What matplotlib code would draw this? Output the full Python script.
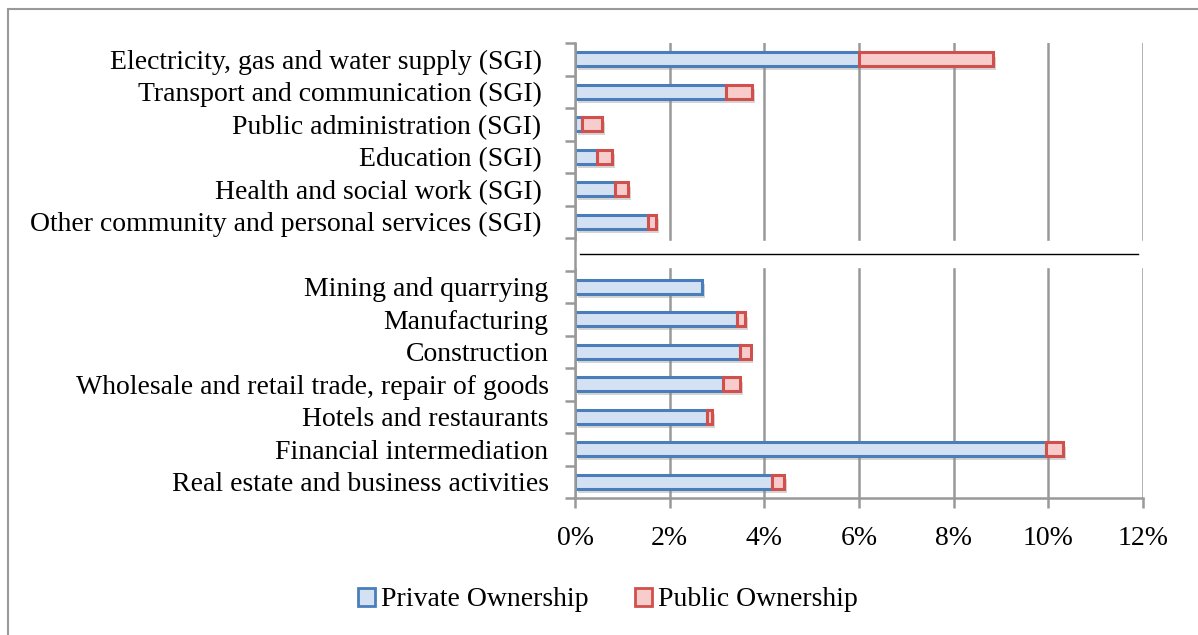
import matplotlib
matplotlib.use("Agg")
import matplotlib.pyplot as plt
import matplotlib.patheffects as pe
import matplotlib.transforms as mtransforms
from matplotlib.patches import Rectangle, Patch
from matplotlib.ticker import PercentFormatter

# sector shares, top to bottom; None marks the gap between SGI and other sectors
categories = [
    "Electricity, gas and water supply (SGI)",
    "Transport and communication (SGI)",
    "Public administration (SGI)",
    "Education (SGI)",
    "Health and social work (SGI)",
    "Other community and personal services (SGI)",
    None,
    "Mining and quarrying",
    "Manufacturing",
    "Construction",
    "Wholesale and retail trade, repair of goods",
    "Hotels and restaurants",
    "Financial intermediation",
    "Real estate and business activities",
]
private = [5.99, 3.18, 0.15, 0.46, 0.84, 1.55, None,
           2.69, 3.43, 3.48, 3.13, 2.79, 9.96, 4.17]
public = [2.85, 0.56, 0.43, 0.33, 0.28, 0.17, None,
          0.0, 0.16, 0.23, 0.36, 0.11, 0.36, 0.24]
x_ticks = [0, 2, 4, 6, 8, 10, 12]

blue_edge = "#4a7ebb"
blue_fill = "#d3e1f2"
red_edge = "#d0504d"
red_fill = "#f9cccc"
grey = "#999999"

plt.rcParams["font.family"] = ["Liberation Serif", "DejaVu Serif"]

fig = plt.figure(figsize=(11.98, 6.35), dpi=100)
ax = fig.add_axes([575 / 1198, 1 - 498 / 635, 568 / 1198, 455 / 635])

pos = [i for i, c in enumerate(categories) if c is not None]
priv = [private[i] for i in pos]
pub = [public[i] for i in pos]

shadow = [pe.SimplePatchShadow(offset=(2, -3), shadow_rgbFace="#888888", alpha=0.35), pe.Normal()]
b1 = ax.barh(pos, priv, height=0.42, color=blue_fill, edgecolor=blue_edge, linewidth=2.2, zorder=3)
b2 = ax.barh(pos, pub, left=priv, height=0.42, color=red_fill, edgecolor=red_edge, linewidth=2.2, zorder=3)
for bar, v in zip(b2, pub):
    if v == 0:
        bar.set_visible(False)
for bar in list(b1) + list(b2):
    bar.set_path_effects(shadow)

ax.set_xlim(0, 12)
ax.set_ylim(13.5, -0.5)
ax.set_xticks(x_ticks)
ax.xaxis.set_major_formatter(PercentFormatter(decimals=0))
ax.grid(axis="x", color=grey, linewidth=1.8, zorder=1)

# blank band behind the separator line
ax.axhspan(5.6, 6.4, color="white", zorder=2)
ax.axhline(6.0, xmin=0.009, xmax=0.991, color="black", linewidth=1, zorder=4)

ax.set_yticks(pos)
ax.set_yticklabels([categories[i] for i in pos])
ax.set_yticks([i - 0.5 for i in range(len(categories) + 1)], minor=True)
ax.tick_params(axis="y", which="major", length=0, pad=19, labelsize=20)
ax.tick_params(axis="y", which="minor", length=7, width=1.8, color=grey)
ax.tick_params(axis="x", length=7, width=1.8, color=grey, labelsize=20, pad=13)

# SGI labels sit a little further from the axis
shift = mtransforms.ScaledTranslation(-7 / 100, 0, fig.dpi_scale_trans)
for lab in ax.get_yticklabels():
    if lab.get_text().endswith("(SGI)"):
        lab.set_transform(lab.get_transform() + shift)

for side in ["top", "right"]:
    ax.spines[side].set_visible(False)
for side in ["left", "bottom"]:
    ax.spines[side].set_color(grey)
    ax.spines[side].set_linewidth(1.8)
    ax.spines[side].set_zorder(5)

handles = [Patch(facecolor=blue_fill, edgecolor=blue_edge, linewidth=2, label="Private Ownership"),
           Patch(facecolor=red_fill, edgecolor=red_edge, linewidth=2, label="Public Ownership")]
fig.legend(handles=handles, loc="center", bbox_to_anchor=(608 / 1198, 1 - 600 / 635), ncol=2,
           frameon=False, fontsize=20, handlelength=0.6, handleheight=0.6, handletextpad=0.2,
           columnspacing=1.7)

# chart border
fig.patches.append(Rectangle((8 / 1198, -0.05), 1.1, 1 - 9 / 635 + 0.05, transform=fig.transFigure,
                             fill=False, edgecolor=grey, linewidth=1.5))

fig.savefig("out.png", dpi=100)
